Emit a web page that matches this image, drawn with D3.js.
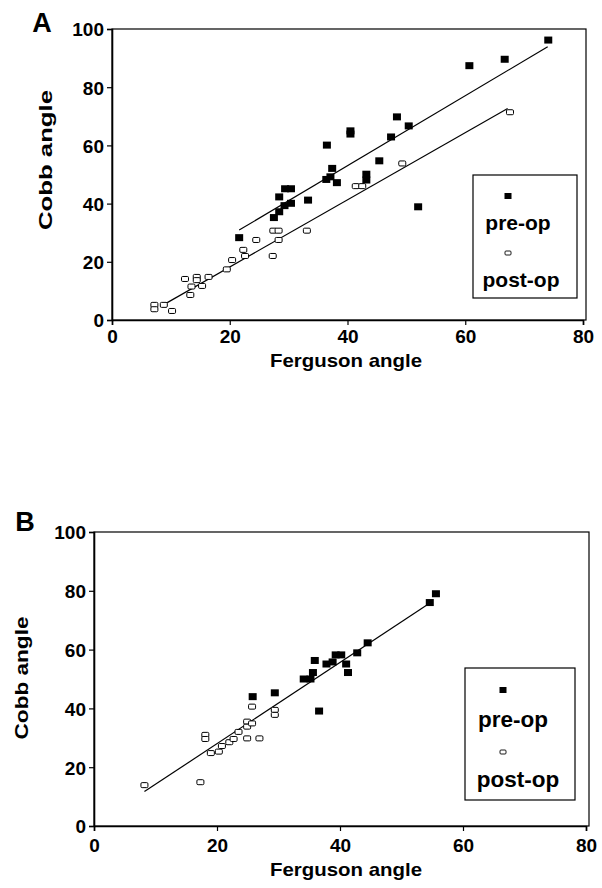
<!DOCTYPE html>
<html>
<head>
<meta charset="utf-8">
<script src="https://cdn.jsdelivr.net/npm/d3@7"></script>
<style>
  body { margin: 0; background: #fff; }
  svg text { font-family: "Liberation Sans", Arial, Helvetica, sans-serif; font-weight: bold; fill: #000; }
</style>
</head>
<body>
<svg id="chart" width="602" height="888"></svg>
<script>
// values (Ferguson angle, Cobb angle)
var xTicks = [0, 20, 40, 60, 80];
var yTicks = [0, 20, 40, 60, 80, 100];
var legendLabels = ['pre-op', 'post-op'];
var xTitle = 'Ferguson angle';
var yTitle = 'Cobb angle';

var preOpA = [[74.1, 96.2], [66.7, 89.6], [60.7, 87.4], [48.4, 69.8], [50.4, 66.7], [40.5, 65.0], [40.5, 63.9],
  [47.4, 62.9], [36.5, 60.1], [45.4, 54.7], [37.4, 52.1], [37.1, 49.2], [36.4, 48.3], [38.2, 47.2], [43.2, 50.1],
  [43.2, 48.1], [52.0, 38.9], [33.3, 41.2], [29.4, 45.1], [30.4, 45.1], [28.4, 42.3], [30.4, 40.1], [29.3, 39.3],
  [28.4, 37.2], [27.5, 35.2], [21.6, 28.3]];
var postOpA = [[7.2, 5.2], [7.2, 3.7], [8.8, 5.2], [10.2, 3.1], [12.4, 14.1], [13.5, 11.5], [13.3, 8.6], [14.4, 14.8],
  [14.4, 13.7], [15.3, 11.7], [16.4, 14.8], [19.5, 17.4], [20.4, 20.6], [22.3, 24.1], [22.6, 22.0], [24.5, 27.5],
  [27.4, 30.7], [28.3, 30.7], [28.3, 27.5], [27.3, 22.0], [33.1, 30.7], [41.4, 46.0], [42.5, 46.0], [49.3, 53.8],
  [67.6, 71.4]];
var fitPreA = [[21.6, 30.9], [74.0, 93.9]];
var fitPostA = [[8.2, 4.6], [67.2, 72.7]];

var preOpB = [[55.6, 79.0], [54.6, 76.0], [44.5, 62.3], [42.8, 58.9], [39.3, 58.2], [40.2, 58.2], [35.9, 56.3],
  [37.8, 55.1], [38.8, 55.8], [41.0, 55.1], [41.3, 52.2], [35.6, 52.2], [34.1, 50.0], [35.2, 50.0], [36.6, 39.1],
  [29.4, 45.3], [25.8, 44.0]];
var postOpB = [[8.2, 13.9], [17.3, 14.9], [18.1, 31.0], [18.1, 29.6], [19.0, 24.8], [20.3, 25.3], [20.8, 27.2],
  [22.0, 28.5], [22.7, 29.6], [23.5, 32.0], [24.9, 29.8], [24.9, 35.5], [24.9, 33.8], [25.7, 40.6], [25.7, 34.9],
  [26.9, 29.8], [29.4, 39.5], [29.4, 37.8]];
var fitB = [[8.2, 11.7], [54.5, 75.7]];

var svg = d3.select('#chart');

function drawPanel(p) {
  var g = svg.append('g');
  var x = d3.scaleLinear().domain([0, 80]).range([p.left, p.right]);
  var y = d3.scaleLinear().domain([0, 100]).range([p.bottom, p.top]);

  // frame
  g.append('rect')
    .attr('x', p.left).attr('y', p.top)
    .attr('width', p.right - p.left + 3).attr('height', p.bottom - p.top)
    .attr('fill', 'none').attr('stroke', '#000').attr('stroke-width', 1.2);

  var xAxis = g.append('g')
    .attr('transform', 'translate(0,' + p.bottom + ')')
    .call(d3.axisBottom(x).tickValues(xTicks).tickSize(5).tickPadding(p.xPad));
  var yAxis = g.append('g')
    .attr('transform', 'translate(' + p.left + ',0)')
    .call(d3.axisLeft(y).tickValues(yTicks).tickSize(5).tickPadding(3));
  [xAxis, yAxis].forEach(function (a) {
    a.select('.domain').attr('stroke-width', 1.6);
    a.selectAll('.tick line').attr('stroke-width', 1.2);
    a.selectAll('.tick text').style('font-size', '19px').attr('fill', '#000');
  });
  yAxis.selectAll('.tick text').attr('dy', '0.36em');

  // fitted lines
  var line = d3.line().x(function (d) { return x(d[0]); }).y(function (d) { return y(d[1]); });
  p.fits.forEach(function (f) {
    g.append('path').attr('d', line(f)).attr('fill', 'none').attr('stroke', '#000').attr('stroke-width', 1.2);
  });

  // post-op: open squares
  g.selectAll('rect.post')
    .data(p.post)
    .enter()
    .append('rect')
    .attr('class', 'post')
    .attr('x', function (d) { return x(d[0]) - 3.5; })
    .attr('y', function (d) { return y(d[1]) - 2.5; })
    .attr('width', 7).attr('height', 5).attr('rx', 1.2)
    .attr('fill', '#fff').attr('stroke', '#000').attr('stroke-width', 1);

  // pre-op: filled squares
  g.selectAll('rect.pre')
    .data(p.pre)
    .enter()
    .append('rect')
    .attr('class', 'pre')
    .attr('x', function (d) { return x(d[0]) - 4; })
    .attr('y', function (d) { return y(d[1]) - 3.5; })
    .attr('width', 8).attr('height', 7)
    .attr('fill', '#000');

  // titles
  g.append('text')
    .attr('x', p.xTitleX).attr('y', p.xTitleY)
    .attr('text-anchor', 'middle')
    .attr('textLength', p.xTitleLen).attr('lengthAdjust', 'spacingAndGlyphs')
    .style('font-size', '19px')
    .text(xTitle);
  g.append('text')
    .attr('transform', 'translate(' + p.yTitleX + ',' + p.yTitleY + ') rotate(-90)')
    .attr('text-anchor', 'middle')
    .attr('textLength', p.yTitleLen).attr('lengthAdjust', 'spacingAndGlyphs')
    .style('font-size', '19px')
    .text(yTitle);
  g.append('text')
    .attr('x', p.letterX).attr('y', p.letterY)
    .attr('text-anchor', 'middle')
    .style('font-size', '27px')
    .text(p.letter);

  // legend
  var L = p.legend;
  g.append('rect')
    .attr('x', L.x).attr('y', L.y).attr('width', L.w).attr('height', L.h)
    .attr('fill', '#fff').attr('stroke', '#000').attr('stroke-width', 1.2);
  g.append('rect')
    .attr('x', L.mx - 3.5).attr('y', L.m1y - 3).attr('width', 7).attr('height', 6).attr('fill', '#000');
  g.append('rect')
    .attr('x', L.mx - 3).attr('y', L.m2y - 2).attr('width', 6).attr('height', 4).attr('rx', 1)
    .attr('fill', '#fff').attr('stroke', '#000').attr('stroke-width', 0.9);
  legendLabels.forEach(function (t, i) {
    g.append('text')
      .attr('x', L.tx[i]).attr('y', L.ty[i])
      .attr('text-anchor', 'middle')
      .style('font-size', L.fs + 'px')
      .text(t);
  });
}

drawPanel({
  left: 112, right: 583, top: 29, bottom: 320, xPad: 5,
  pre: preOpA, post: postOpA, fits: [fitPreA, fitPostA],
  xTitleX: 346, xTitleY: 367, xTitleLen: 152, yTitleX: 52, yTitleY: 160, yTitleLen: 140,
  letter: 'A', letterX: 42, letterY: 32,
  legend: { x: 473, y: 175, w: 104, h: 123, mx: 508, m1y: 196, m2y: 253,
    tx: [518, 521], ty: [230, 287], fs: 21 }
});

drawPanel({
  left: 94, right: 586, top: 532, bottom: 826, xPad: 8,
  pre: preOpB, post: postOpB, fits: [fitB],
  xTitleX: 346, xTitleY: 876, xTitleLen: 152, yTitleX: 28, yTitleY: 678, yTitleLen: 123,
  letter: 'B', letterX: 25, letterY: 531,
  legend: { x: 465, y: 668, w: 110, h: 132, mx: 503, m1y: 690, m2y: 752,
    tx: [513, 518], ty: [727, 787], fs: 22.5 }
});
</script>
</body>
</html>
